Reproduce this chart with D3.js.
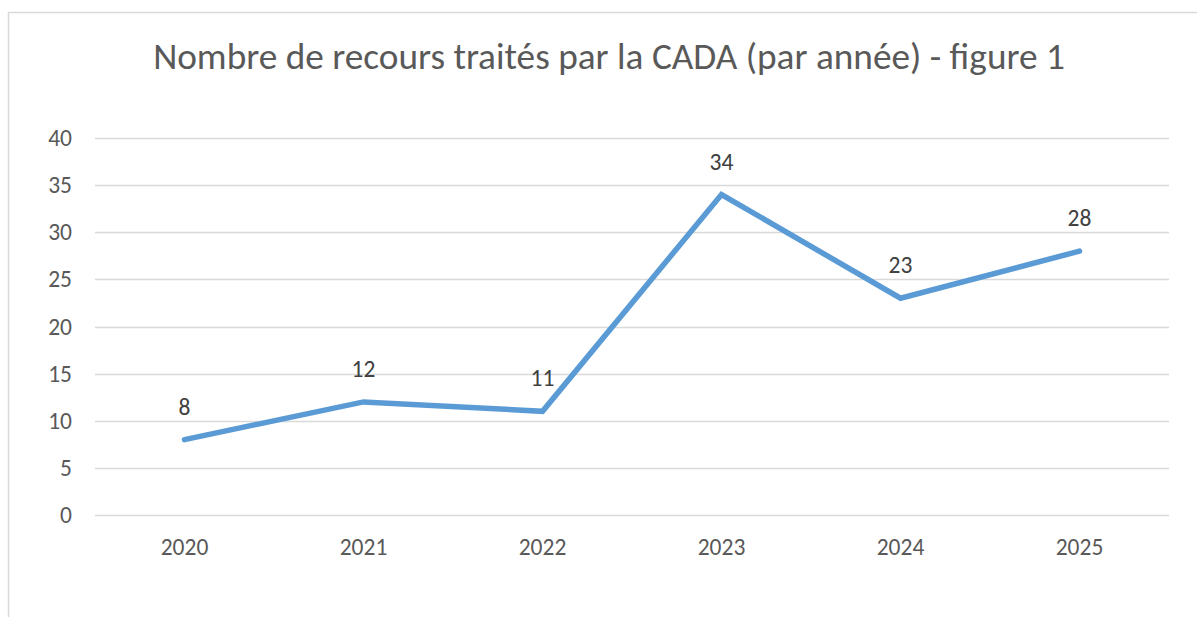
<!DOCTYPE html>
<html>
<head>
<meta charset="utf-8">
<script src="https://cdn.jsdelivr.net/npm/d3@7"></script>
<style>
  body { margin: 0; background: #fff; }
  svg { display: block; }
</style>
</head>
<body>
<svg id="chart" width="1197" height="617"></svg>
<script>
const years = ['2020', '2021', '2022', '2023', '2024', '2025'];
const recours = [8, 12, 11, 34, 23, 28];
const yTicks = [0, 5, 10, 15, 20, 25, 30, 35, 40];
const title = 'Nombre de recours traités par la CADA (par année) - figure 1';

const width = 1197, height = 617;
const margin = { top: 138, right: 28, bottom: 102, left: 95 };
const font = 'Carlito, Calibri, "Open Sans", sans-serif';
const labelSize = 23.5;

const svg = d3.select('#chart');

// chart frame (only left and top edges show in the crop)
svg.append('path')
  .attr('d', `M8.5,${height} V12.5 H${width}`)
  .attr('fill', 'none')
  .attr('stroke', '#d9d9d9')
  .attr('stroke-width', 1.5);

const x = d3.scaleBand()
  .domain(years)
  .range([margin.left, width - margin.right]);

const y = d3.scaleLinear()
  .domain([0, 40])
  .range([height - margin.bottom, margin.top]);

// gridlines
svg.append('g')
  .selectAll('line')
  .data(yTicks)
  .join('line')
  .attr('x1', margin.left)
  .attr('x2', width - margin.right)
  .attr('y1', (d) => Math.round(y(d)) + 0.5)
  .attr('y2', (d) => Math.round(y(d)) + 0.5)
  .attr('stroke', '#d9d9d9')
  .attr('stroke-width', 1.3);

// y axis labels
const yAxis = d3.axisLeft(y).tickValues(yTicks).tickSize(0).tickPadding(23);
svg.append('g')
  .attr('transform', `translate(${margin.left},0)`)
  .call(yAxis)
  .call((g) => g.select('.domain').remove())
  .selectAll('text')
  .attr('font-family', font)
  .attr('font-size', labelSize)
  .attr('fill', '#595959');

// x axis labels
const xAxis = d3.axisBottom(x).tickSize(0).tickPadding(23);
svg.append('g')
  .attr('transform', `translate(0,${height - margin.bottom})`)
  .call(xAxis)
  .call((g) => g.select('.domain').remove())
  .selectAll('text')
  .attr('font-family', font)
  .attr('font-size', labelSize)
  .attr('fill', '#595959');

const cx = (d, i) => x(years[i]) + x.bandwidth() / 2;

// the line
const line = d3.line()
  .x((d, i) => cx(d, i))
  .y((d) => y(d));

svg.append('path')
  .datum(recours)
  .attr('d', line)
  .attr('fill', 'none')
  .attr('stroke', '#5b9bd5')
  .attr('stroke-width', 5.5)
  .attr('stroke-linejoin', 'miter')
  .attr('stroke-linecap', 'round');

// data labels
svg.append('g')
  .selectAll('text')
  .data(recours)
  .join('text')
  .attr('x', (d, i) => cx(d, i))
  .attr('y', (d) => y(d) - 25)
  .attr('text-anchor', 'middle')
  .attr('font-family', font)
  .attr('font-size', labelSize)
  .attr('fill', '#404040')
  .text((d) => d);

// title
const t = svg.append('text')
  .attr('x', 609)
  .attr('y', 69)
  .attr('text-anchor', 'middle')
  .attr('font-family', font)
  .attr('font-size', 31)
  .attr('fill', '#595959')
  .text(title);
const w = t.node().getComputedTextLength();
if (w > 0) t.attr('font-size', 31 * 912 / w);
</script>
</body>
</html>
